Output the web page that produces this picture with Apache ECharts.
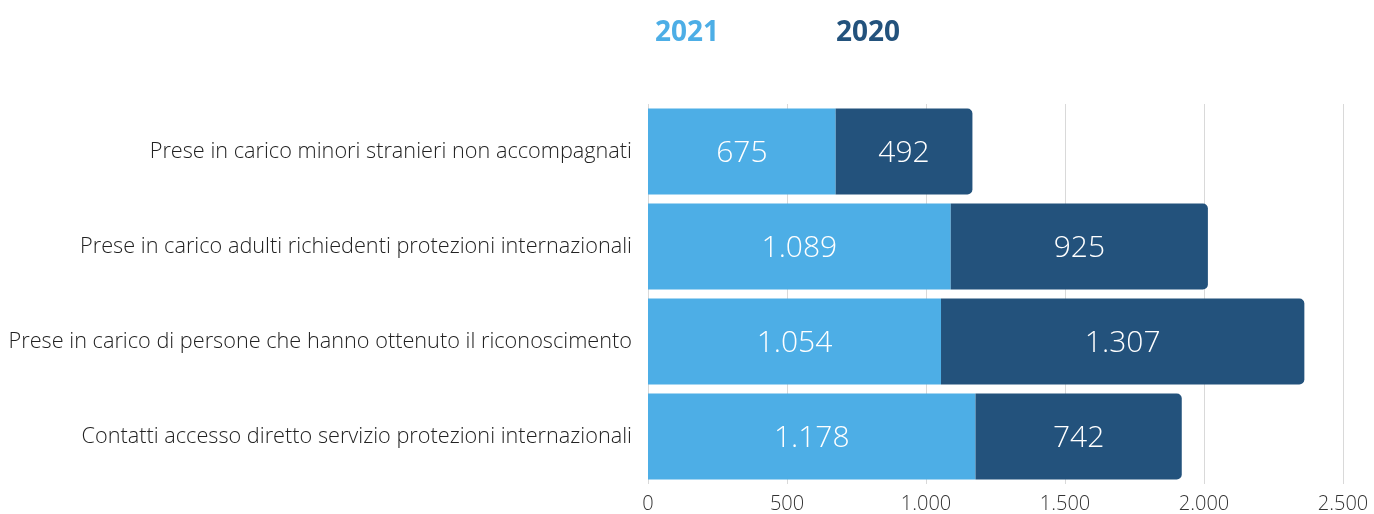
<!DOCTYPE html>
<html>
<head>
<meta charset="utf-8">
<script src="https://cdn.jsdelivr.net/npm/echarts@6/dist/echarts.min.js"></script>
<style>
  html, body { margin: 0; padding: 0; background: #fff; }
  #chart { width: 1374px; height: 514px; }
</style>
</head>
<body>
<div id="chart"></div>
<script>
// categorie, dall'alto verso il basso
const categories = [
  "Prese in carico minori stranieri non accompagnati",
  "Prese in carico adulti richiedenti protezioni internazionali",
  "Prese in carico di persone che hanno ottenuto il riconoscimento",
  "Contatti accesso diretto servizio protezioni internazionali"
];
const values2021 = [675, 1089, 1054, 1178];
const values2020 = [492, 925, 1307, 742];
const xTicks = [0, 500, 1000, 1500, 2000, 2500];

const fmt = v => v.toLocaleString("it-IT");
const light = "#4daee6";
const dark = "#23527c";

const barLabel = {
  show: true,
  position: "inside",
  offset: [0, 2],
  color: "#fff",
  fontFamily: "Open Sans",
  fontWeight: 300,
  fontSize: 30,
  formatter: p => fmt(p.value)
};

const chart = echarts.init(document.getElementById("chart"));
chart.setOption({
  animation: false,
  legend: {
    top: 14,
    left: 645,
    icon: "none",
    itemWidth: 0,
    itemGap: 112,
    selectedMode: false,
    textStyle: { fontFamily: "Open Sans", fontWeight: "bold", fontSize: 28 },
    data: [
      { name: "2021", textStyle: { color: light } },
      { name: "2020", textStyle: { color: dark } }
    ]
  },
  grid: { left: 648, right: 31, top: 104, bottom: 29, containLabel: false },
  xAxis: {
    type: "value",
    min: 0,
    max: xTicks[xTicks.length - 1],
    interval: 500,
    axisLine: { show: false },
    axisTick: { show: false },
    splitLine: { lineStyle: { color: "#d9d9d9", width: 1 } },
    axisLabel: {
      color: "#333",
      fontFamily: "Open Sans",
      fontWeight: 300,
      fontSize: 20,
      margin: 10,
      formatter: v => fmt(v)
    }
  },
  yAxis: {
    type: "category",
    inverse: true,
    data: categories,
    axisLine: { show: false },
    axisTick: { show: false },
    axisLabel: {
      color: "#222",
      fontFamily: "Open Sans",
      fontWeight: 300,
      fontSize: 21.7,
      margin: 16
    }
  },
  series: [
    {
      name: "2021",
      type: "bar",
      stack: "tot",
      data: values2021,
      barCategoryGap: "9.7%",
      itemStyle: { color: light },
      label: barLabel
    },
    {
      name: "2020",
      type: "bar",
      stack: "tot",
      data: values2020,
      itemStyle: { color: dark, borderRadius: [0, 5, 5, 0] },
      label: barLabel
    }
  ]
});
</script>
</body>
</html>
